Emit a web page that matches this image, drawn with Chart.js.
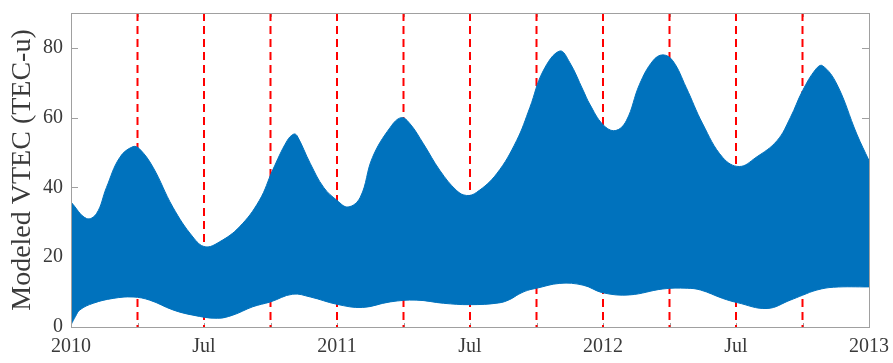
<!DOCTYPE html>
<html>
<head>
<meta charset="utf-8">
<script src="https://cdn.jsdelivr.net/npm/chart.js@4/dist/chart.umd.min.js"></script>
<style>
  html, body { margin: 0; padding: 0; background: #ffffff; }
  #wrap { width: 893px; height: 363px; }
</style>
</head>
<body>
<div id="wrap"><canvas id="vtec" width="893" height="363"></canvas></div>
<script>
// Months elapsed since 1 Jan 2010 (x) and modeled VTEC in TEC units (y).
// Daily maxima envelope of the modeled VTEC.
const upperMonths = [0, 0.7, 1.15, 1.6, 2.2, 2.8, 3.1, 3.7, 4.6, 5.5, 6.05, 6.7, 7.6, 8.5, 9.1, 9.75, 10.05, 10.2, 10.8, 11.4,
  12, 12.5, 13.05, 13.6, 14.4, 14.9, 15.3, 15.9, 16.65, 17.4, 17.85, 18.3, 19.2, 20.1, 20.7, 21.3, 22.05, 22.5, 23.1, 23.4,
  24, 24.55, 25.05, 25.65, 26.25, 26.7, 27.15, 27.75, 28.5, 29.4, 30.15, 30.9, 31.85, 32.45, 33, 33.6, 33.9, 34.55, 35.45, 36];
const upperTEC = [35.8, 31.1, 32.5, 40, 48.6, 51.7, 51, 45.8, 34.3, 25.8, 23, 24.4, 28.7, 36.3, 45, 53.4, 55.3, 54.8, 46.8, 40,
  36.3, 34.4, 37.2, 48.6, 57.2, 60, 58.2, 52.5, 44.8, 39.1, 37.7, 38.6, 43.9, 53.4, 62.9, 73.4, 79.1, 75.8, 67.9, 63.9,
  58.0, 56.3, 59.1, 69.6, 76.3, 78, 76.3, 68.7, 58.2, 48.6, 46, 48.6, 53.4, 60, 67.7, 73.9, 74.9, 69.6, 55.3, 47.7];

// Daily minima envelope of the modeled VTEC.
const lowerMonths = [0, 0.2, 0.4, 1, 1.9, 2.8, 3.55, 4.6, 5.5, 6.6, 7.3, 8.2, 9, 10, 10.8, 12, 13.15, 14.4, 15.6, 16.8,
  18, 19.3, 19.8, 20.2, 20.6, 21, 22.05, 23.1, 24, 25.2, 26.7, 27.8, 28.4, 29.4, 30.05, 31.4, 32.45, 33, 33.65, 34.4, 36];
const lowerTEC = [0.6, 3, 4.9, 6.8, 8.2, 8.6, 7.7, 4.9, 3.4, 2.5, 3.4, 5.8, 7.2, 9.4, 8.6, 6.5, 5.6, 7.2, 7.7, 6.8,
  6.4, 6.9, 7.9, 9.4, 10.5, 11.1, 12.5, 12, 9.8, 9.2, 10.9, 11.1, 10.6, 8.2, 7, 5.3, 7.7, 9.1, 10.6, 11.4, 11.5];

// Quarter boundaries marked with dashed red lines.
const quarterMonths = [3, 6, 9, 12, 15, 18, 21, 24, 27, 30, 33];

// Axis ticks and labels.
const xTickLabels = ['2010', 'Jul', '2011', 'Jul', '2012', 'Jul', '2013'];
const yTickValues = [0, 20, 40, 60, 80];
const yLabel = 'Modeled VTEC (TEC-u)';

const FONT = '"Liberation Serif", "Times New Roman", serif';
const FILL_BLUE = '#0072bd';
const FRAME = '#a0a0a0';
const TEXT = '#3a3a3a';

const toPoints = (xs, ys) => xs.map((x, i) => ({ x: x, y: ys[i] }));

const datasets = [
  {
    label: 'upper',
    data: toPoints(upperMonths, upperTEC),
    borderColor: FILL_BLUE,
    borderWidth: 1,
    backgroundColor: FILL_BLUE,
    fill: 1,
    pointRadius: 0,
    tension: 0.4
  },
  {
    label: 'lower',
    data: toPoints(lowerMonths, lowerTEC),
    borderColor: FILL_BLUE,
    borderWidth: 1,
    fill: false,
    pointRadius: 0,
    tension: 0.4
  }
];

quarterMonths.forEach(m => {
  datasets.push({
    label: 'q' + m,
    data: [{ x: m, y: 90 }, { x: m, y: 0 }],
    borderColor: '#ff0000',
    borderWidth: 2,
    borderDash: [8, 5],
    pointRadius: 0,
    fill: false
  });
});

// Inward tick marks on all four sides (beneath the data) and the axes box.
const innerTicks = {
  id: 'innerTicks',
  beforeDatasetsDraw(chart) {
    const { ctx, chartArea: a, scales } = chart;
    ctx.save();
    ctx.strokeStyle = FRAME;
    ctx.lineWidth = 1;
    ctx.beginPath();
    scales.y.ticks.forEach(t => {
      const py = Math.round(scales.y.getPixelForValue(t.value)) + 0.5;
      ctx.moveTo(a.left, py); ctx.lineTo(a.left + 7, py);
      ctx.moveTo(a.right, py); ctx.lineTo(a.right - 7, py);
    });
    scales.x.ticks.forEach(t => {
      const px = Math.round(scales.x.getPixelForValue(t.value)) + 0.5;
      ctx.moveTo(px, a.top); ctx.lineTo(px, a.top + 4);
      ctx.moveTo(px, a.bottom); ctx.lineTo(px, a.bottom - 4);
    });
    ctx.stroke();
    ctx.restore();
  },
  afterDatasetsDraw(chart) {
    const { ctx, chartArea: a } = chart;
    ctx.save();
    ctx.strokeStyle = FRAME;
    ctx.lineWidth = 1;
    ctx.strokeRect(Math.round(a.left) + 0.5, Math.round(a.top) + 0.5,
      Math.round(a.right - a.left), Math.round(a.bottom - a.top));
    ctx.restore();
  }
};

const noEdgePadding = scale => {
  scale.paddingTop = 0; scale.paddingBottom = 0;
  scale.paddingLeft = 0; scale.paddingRight = 0;
};

new Chart(document.getElementById('vtec'), {
  type: 'line',
  data: { datasets: datasets },
  plugins: [innerTicks],
  options: {
    responsive: false,
    animation: false,
    events: [],
    layout: { padding: { top: 13, right: 24, left: 0, bottom: 0 } },
    plugins: {
      legend: { display: false },
      tooltip: { enabled: false },
      filler: { propagate: false }
    },
    scales: {
      x: {
        type: 'linear',
        min: 0,
        max: 36,
        grid: { display: false, drawTicks: false },
        border: { display: false },
        afterBuildTicks(scale) {
          scale.ticks = [];
          for (let m = 0; m <= 36; m += 3) scale.ticks.push({ value: m });
        },
        ticks: {
          autoSkip: false,
          maxRotation: 0,
          padding: 8,
          color: TEXT,
          font: { family: FONT, size: 20 },
          callback: v => (v % 6 === 0 ? xTickLabels[v / 6] : '')
        },
        afterFit(scale) { scale.height = 36; noEdgePadding(scale); }
      },
      y: {
        min: 0,
        max: 90,
        grid: { display: false, drawTicks: false },
        border: { display: false },
        afterBuildTicks(scale) {
          scale.ticks = yTickValues.map(v => ({ value: v }));
        },
        ticks: {
          padding: 8,
          color: TEXT,
          font: { family: FONT, size: 20 }
        },
        title: {
          display: true,
          text: yLabel,
          color: TEXT,
          font: { family: FONT, size: 28 },
          padding: { top: 6, bottom: 0 }
        },
        afterFit(scale) { scale.width = 71; noEdgePadding(scale); }
      }
    }
  }
});
</script>
</body>
</html>
